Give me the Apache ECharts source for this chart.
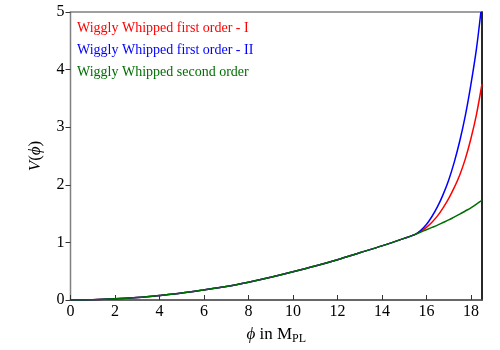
<!DOCTYPE html>
<html>
<head>
<meta charset="utf-8">
<script src="https://cdn.jsdelivr.net/npm/echarts@6/dist/echarts.min.js"></script>
<style>
html,body{margin:0;padding:0;background:#fff;}
#main{width:500px;height:350px;}
</style>
</head>
<body>
<div id="main"></div>
<script>
// common part of the potential (all three curves coincide up to phi ~ 15.5)
var phiLow = [0,1,2,3,4,5,6,7,8,9,10,11,12,13,14,15,15.5];
var vLow = [0,0.005,0.02,0.045,0.08,0.12,0.175,0.235,0.31,0.395,0.49,0.59,0.70,0.82,0.94,1.07,1.14];
// after the junction
var phiHigh = [15.75,16,16.25,16.5,16.75,17,17.25,17.5,17.75,18,18.25,18.5];
var phiHighII = [15.75,16,16.25,16.5,16.75,17,17.25,17.5,17.75,18,18.25,18.45];
var vFirstI = [1.19,1.26,1.35,1.46,1.60,1.76,1.95,2.17,2.45,2.80,3.22,3.75];
var vFirstII = [1.21,1.31,1.45,1.62,1.83,2.08,2.39,2.76,3.20,3.74,4.36,5.0];
var vSecond = [1.18,1.22,1.26,1.30,1.345,1.39,1.44,1.49,1.545,1.60,1.665,1.73];

var names = ['Wiggly Whipped first order - I','Wiggly Whipped first order - II','Wiggly Whipped second order'];
var colors = ['#ff0000','#0000ff','#006e00'];

function pairs(xs, ys){
	var out = [];
	for(var i=0;i<xs.length;i++){
		out.push([xs[i], ys[i]]);
	}
	return out;
}

var font = 'Liberation Serif';
var myChart = echarts.init(document.getElementById('main'));
var option = {
	animation: false,
	backgroundColor: '#fff',
	grid: {left: 70.5, right: 18, top: 12, bottom: 41, show: true, borderColor: '#808080', borderWidth: 1.5, backgroundColor: 'transparent'},
	legend: {
		orient: 'vertical',
		left: 67,
		top: 16,
		itemGap: 8,
		itemWidth: 0,
		itemHeight: 0,
		icon: 'none',
		textStyle: {fontFamily: font, fontSize: 14, padding: 0},
		data: [
			{name: names[0], textStyle: {color: colors[0]}},
			{name: names[1], textStyle: {color: colors[1]}},
			{name: names[2], textStyle: {color: colors[2]}}
		]
	},
	xAxis: {
		type: 'value', min: 0, max: 18.5, interval: 2,
		name: '{i|ϕ} in M{s|PL}',
		nameLocation: 'middle',
		nameGap: 25,
		nameTextStyle: {
			fontFamily: font, fontSize: 17, color: '#000',
			rich: {
				i: {fontFamily: font, fontSize: 17, fontStyle: 'italic', color: '#000'},
				s: {fontFamily: font, fontSize: 12, color: '#000', verticalAlign: 'bottom', padding: [8,0,0,0]}
			}
		},
		axisLine: {onZero: false, lineStyle: {color: '#555', width: 1.5}},
		axisTick: {inside: true, length: 5, lineStyle: {color: '#333'}},
		axisLabel: {fontFamily: font, fontSize: 16, color: '#000', margin: 4, showMaxLabel: false},
		splitLine: {show: false}
	},
	yAxis: [
		{
			type: 'value', min: 0, max: 5, interval: 1,
			name: '{i|V}({i|ϕ})',
			nameLocation: 'middle',
			nameGap: 26,
			nameTextStyle: {
				fontFamily: font, fontSize: 17, color: '#000',
				rich: {i: {fontFamily: font, fontSize: 17, fontStyle: 'italic', color: '#000'}}
			},
			axisLine: {show: false},
			axisTick: {show: true, inside: false, length: 5, lineStyle: {color: '#333'}},
			axisLabel: {fontFamily: font, fontSize: 16, color: '#000', margin: 6},
			splitLine: {show: false}
		},
		{
			type: 'value', min: 0, max: 5, position: 'right',
			axisLine: {show: true, lineStyle: {color: '#000', width: 1.5}},
			axisTick: {show: false}, axisLabel: {show: false}, splitLine: {show: false}
		}
	],
	series: [
		{
			name: names[0], type: 'line', showSymbol: false, smooth: 0.3,
			lineStyle: {color: colors[0], width: 1.5}, itemStyle: {color: colors[0]},
			data: pairs(phiLow, vLow).concat(pairs(phiHigh, vFirstI))
		},
		{
			name: names[1], type: 'line', showSymbol: false, smooth: 0.3,
			lineStyle: {color: colors[1], width: 1.5}, itemStyle: {color: colors[1]},
			data: pairs(phiLow, vLow).concat(pairs(phiHighII, vFirstII))
		},
		{
			name: names[2], type: 'line', showSymbol: false, smooth: 0.3,
			lineStyle: {color: colors[2], width: 1.5}, itemStyle: {color: colors[2]},
			data: pairs(phiLow, vLow).concat(pairs(phiHigh, vSecond))
		}
	]
};
myChart.setOption(option);
</script>
</body>
</html>
